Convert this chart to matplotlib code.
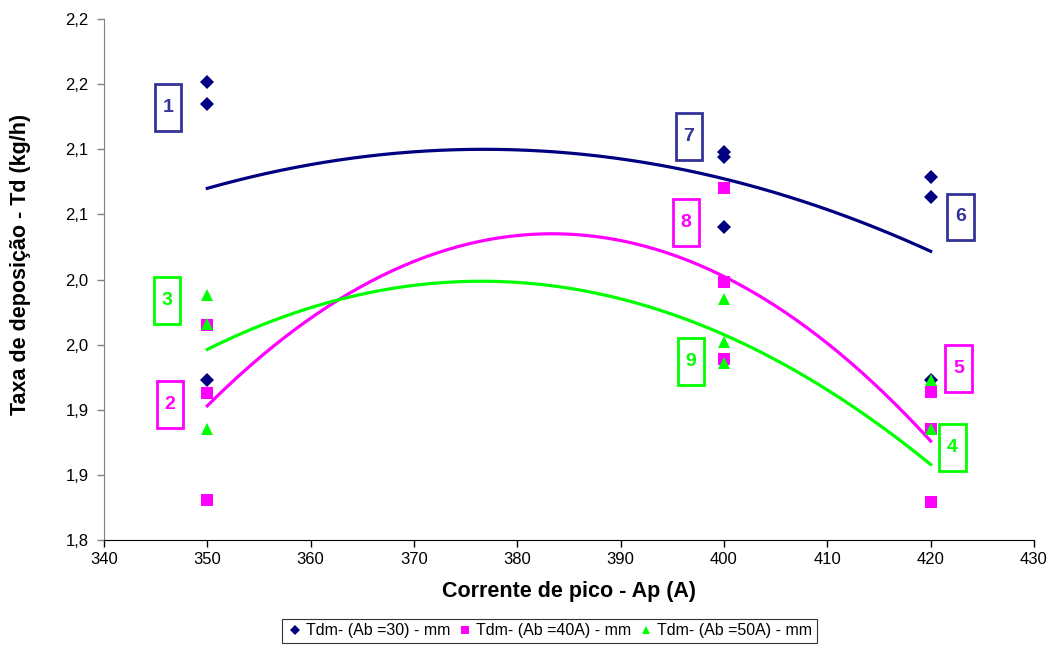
import numpy as np
import matplotlib
matplotlib.use("Agg")
import matplotlib.pyplot as plt
from matplotlib.patches import Rectangle

plt.rcParams['font.family'] = ['Liberation Sans', 'DejaVu Sans']

# Corrente de pico (A) e taxa de deposicao (kg/h), tres medidas por ponto
corrente = [350, 350, 350, 400, 400, 400, 420, 420, 420]
td_ab30 = [2.152, 2.135, 1.923, 2.098, 2.094, 2.040, 2.079, 2.063, 1.923]
td_ab40 = [1.965, 1.913, 1.831, 2.070, 1.998, 1.939, 1.914, 1.885, 1.829]
td_ab50 = [1.988, 1.966, 1.885, 1.985, 1.952, 1.936, 1.923, 1.885, 1.766]

series_labels = ['Tdm- (Ab =30) - mm', 'Tdm- (Ab =40A) - mm', 'Tdm- (Ab =50A) - mm']

y_ticks = [1.80, 1.85, 1.90, 1.95, 2.00, 2.05, 2.10, 2.15, 2.20]
y_ticklabels = ['1,8', '1,9', '1,9', '2,0', '2,0', '2,1', '2,1', '2,2', '2,2']
x_ticks = [340, 350, 360, 370, 380, 390, 400, 410, 420, 430]

# caixas numeradas: (numero, x, y, serie)
box_nums = ['1', '2', '3', '4', '5', '6', '7', '8', '9']
box_x = [346.2, 346.4, 346.1, 422.1, 422.7, 422.9, 396.6, 396.3, 396.8]
box_y = [2.132, 1.904, 1.984, 1.871, 1.932, 2.048, 2.110, 2.044, 1.937]
box_serie = [0, 1, 2, 2, 1, 0, 0, 1, 2]

cores = ['#000080', '#FF00FF', '#00FF00']
cores_caixa = ['#333399', '#FF00FF', '#00FF00']
marcadores = ['D', 's', '^']
tamanhos = [7, 8, 9]

fig = plt.figure(figsize=(10.49, 6.46), dpi=100)
ax = fig.add_axes([0.0991, 0.164, 0.8866, 0.8066])

xs = np.linspace(350, 420, 200)
for i, td in enumerate([td_ab30, td_ab40, td_ab50]):
    ax.plot(corrente, td, linestyle='none', marker=marcadores[i], color=cores[i],
            markersize=tamanhos[i], markeredgewidth=0, label=series_labels[i], zorder=3)
    coef = np.polyfit(corrente, td, 2)
    ax.plot(xs, np.polyval(coef, xs), color=cores[i], linewidth=2.3, zorder=2)

for n, bx, by, s in zip(box_nums, box_x, box_y, box_serie):
    w = 2.55
    h = 0.036
    ax.add_patch(Rectangle((bx - w / 2, by - h / 2), w, h, fill=False,
                           edgecolor=cores_caixa[s], linewidth=2, zorder=4, clip_on=False))
    ax.text(bx, by, n, color=cores_caixa[s], fontsize=14, fontweight='bold',
            ha='center', va='center', zorder=5)

ax.set_xlim(340, 430)
ax.set_ylim(1.8, 2.2)
ax.set_xticks(x_ticks)
ax.set_yticks(y_ticks)
ax.set_yticklabels(y_ticklabels)
ax.tick_params(axis='both', labelsize=12, length=5, direction='out', width=1)
ax.tick_params(axis='y', color='#808080', pad=6)

ax.spines['top'].set_visible(False)
ax.spines['right'].set_visible(False)
ax.spines['left'].set_color('#808080')
ax.spines['bottom'].set_color('black')

ax.set_xlabel('Corrente de pico - Ap (A)', fontsize=15.5, fontweight='bold', va='center')
ax.set_ylabel('Taxa de deposição - Td (kg/h)', fontsize=15.5, fontweight='bold', va='center')
ax.xaxis.set_label_coords(0.5, -0.098)
ax.yaxis.set_label_coords(-0.09, 0.528)

leg = fig.legend(loc='lower center', bbox_to_anchor=(0.524, -0.008), ncol=3, fontsize=11.5,
                 frameon=True, fancybox=False, edgecolor='black', handletextpad=0.2,
                 columnspacing=0.4, handlelength=1.0, borderpad=0.3, markerscale=0.7)
leg.get_frame().set_linewidth(0.8)

fig.savefig('out.png', dpi=100)
